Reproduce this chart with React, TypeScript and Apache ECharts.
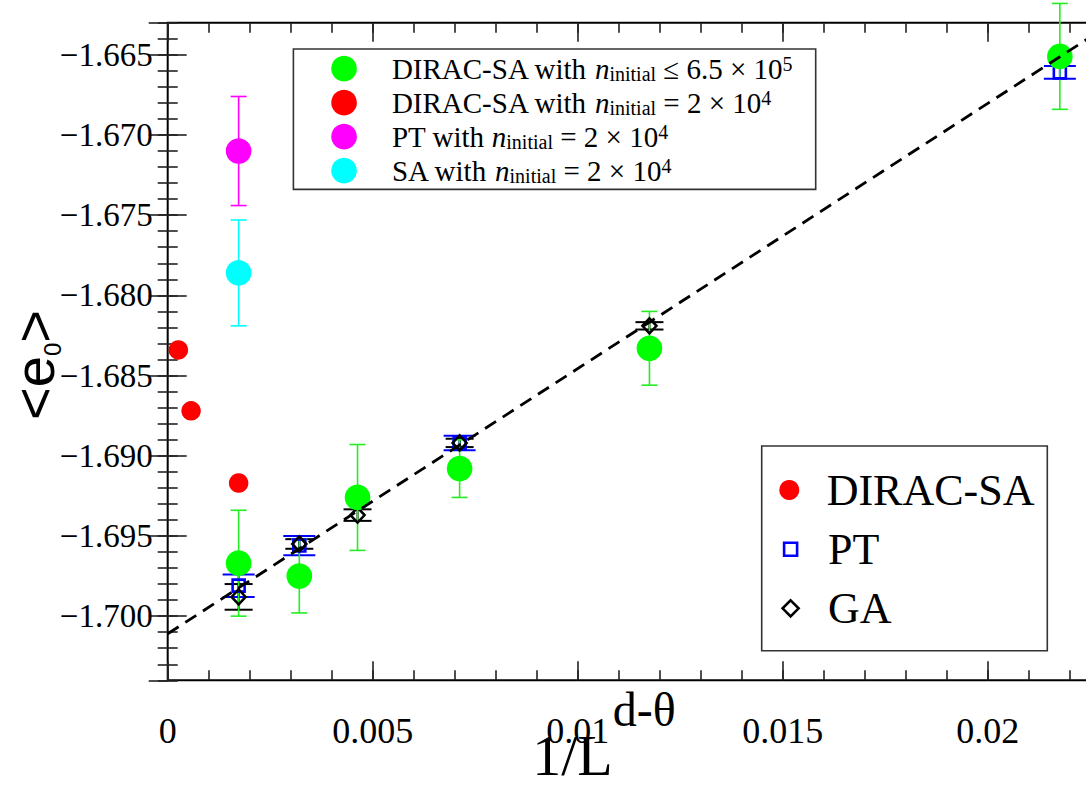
import React, { useEffect, useRef } from "react";
import * as echarts from "echarts";

// ---------- data ----------
// x = 1/L^(d-theta)
const diracBestX = [0.00173, 0.00321, 0.00463, 0.00712, 0.01175, 0.02176];
const diracBestY = [-1.6967, -1.6975, -1.6926, -1.6908, -1.6833, -1.6651];
const diracBestErr = [0.0033, 0.0023, 0.0033, 0.0018, 0.0023, 0.0033];

const diracSmallX = [0.00026, 0.00057, 0.00173];
const diracSmallY = [-1.6834, -1.6872, -1.6917];

const ptSmallX = [0.00173];
const ptSmallY = [-1.671];
const ptSmallErr = [0.0034];

const saSmallX = [0.00173];
const saSmallY = [-1.6786];
const saSmallErr = [0.0033];

const ptX = [0.00173, 0.00321, 0.00712, 0.02176];
const ptY = [-1.6981, -1.6956, -1.6892, -1.6661];
const ptErr = [0.0007, 0.0006, 0.00045, 0.0004];

const gaX = [0.00173, 0.00321, 0.00463, 0.00712, 0.01175];
const gaY = [-1.6988, -1.6955, -1.6937, -1.6892, -1.6819];
const gaErr = [0.0008, 0.0003, 0.00036, 0.00026, 0.00023];

const fitX = [0, 0.0225];
const fitY = [-1.7011, -1.6639];

const xRange = [0, 0.0225];
const yRange = [-1.704, -1.663];

const legendTopNames = [
  "DIRAC-SA with n_initial ≤ 6.5 × 10^5",
  "DIRAC-SA with n_initial = 2 × 10^4",
  "PT with n_initial = 2 × 10^4",
  "SA with n_initial = 2 × 10^4",
];
const legendTopRich = [
  "{sp| }DIRAC-SA with {i|n}{sub|initial}{t| ≤ 6.5 × 10}{sup|5}",
  "{sp| }DIRAC-SA with {i|n}{sub|initial}{t| = 2 × 10}{sup|4}",
  "{sp| }PT with {i|n}{sub|initial}{t| = 2 × 10}{sup|4}",
  "{sp| }SA with {i|n}{sub|initial}{t| = 2 × 10}{sup|4}",
];

const FONT = "Liberation Serif";

const pts = (xs: number[], ys: number[]) => xs.map((x, i) => [x, ys[i]]);

function errorBars(name: string, xs: number[], ys: number[], es: number[], color: string, cap: number, width: number) {
  return {
    type: "custom",
    name,
    data: xs.map((x, i) => [x, ys[i], es[i]]),
    xAxisIndex: 0,
    yAxisIndex: 0,
    clip: false,
    silent: true,
    encode: { x: 0, y: 1 },
    renderItem: (_params: any, api: any) => {
      const x = api.value(0);
      const y = api.value(1);
      const e = api.value(2);
      const p1 = api.coord([x, y + e]);
      const p2 = api.coord([x, y - e]);
      const st = { stroke: color, lineWidth: width, fill: "none" };
      return {
        type: "group",
        children: [
          { type: "line", shape: { x1: p1[0], y1: p1[1], x2: p2[0], y2: p2[1] }, style: st },
          { type: "line", shape: { x1: p1[0] - cap / 2, y1: p1[1], x2: p1[0] + cap / 2, y2: p1[1] }, style: st },
          { type: "line", shape: { x1: p2[0] - cap / 2, y1: p2[1], x2: p2[0] + cap / 2, y2: p2[1] }, style: st },
        ],
      };
    },
  };
}

const tickStyle = { color: "#222", width: 1.6 };

function xAx(position: "bottom" | "top", major: boolean) {
  return {
    type: "value",
    min: xRange[0],
    max: xRange[1],
    interval: major ? 0.005 : 0.001,
    position,
    axisLine: { show: false },
    axisTick: { show: true, inside: true, length: major ? 19 : 10, lineStyle: tickStyle },
    axisLabel: {
      show: major && position === "bottom",
      fontFamily: FONT,
      fontSize: 36,
      color: "#000",
      margin: 33,
      showMaxLabel: false,
    },
    splitLine: { show: false },
    ...(major && position === "bottom"
      ? {
          name: "{a|1/L}{s|d-θ}",
          nameLocation: "middle",
          nameGap: 5,
          nameMoveOverlap: false,
          nameTextStyle: {
            padding: [0, 50, 0, 0],
            rich: {
              a: { fontFamily: FONT, fontSize: 58, lineHeight: 140, color: "#000" },
              s: { fontFamily: FONT, fontSize: 48, lineHeight: 48, color: "#000", verticalAlign: "top" },
            },
          },
        }
      : {}),
  };
}

function yAx(position: "left" | "right", major: boolean) {
  return {
    type: "value",
    min: yRange[0],
    max: yRange[1],
    ...(major ? { splitNumber: 8 } : { interval: 0.001 }),
    position,
    axisLine: { show: false },
    axisTick: { show: true, inside: true, length: major ? 19 : 10, lineStyle: tickStyle },
    axisLabel: {
      show: major && position === "left",
      fontFamily: FONT,
      fontSize: 33,
      color: "#000",
      margin: 15,
      showMinLabel: false,
      showMaxLabel: false,
      formatter: (v: number) => (v < 0 ? "−" : "") + Math.abs(v).toFixed(3),
    },
    splitLine: { show: false },
    ...(major && position === "left"
      ? {
          name: "{b|<}{e|e}{s|0}{b|>}",
          nameLocation: "middle",
          nameRotate: 90,
          nameGap: 103,
          nameMoveOverlap: false,
          nameTextStyle: {
            padding: [0, 27, 0, 0],
            rich: {
              b: { fontFamily: "Liberation Sans", fontSize: 56, lineHeight: 60, color: "#000" },
              e: { fontFamily: "Liberation Sans", fontSize: 56, lineHeight: 60, color: "#000" },
              s: { fontFamily: "Liberation Sans", fontSize: 24, lineHeight: 30, color: "#000", verticalAlign: "bottom" },
            },
          },
        }
      : {}),
  };
}

const topRich = {
  sp: { width: 30 },
  i: { fontFamily: FONT, fontStyle: "italic", fontSize: 29, lineHeight: 30 },
  sub: { fontFamily: FONT, fontSize: 20, lineHeight: 19, verticalAlign: "bottom" },
  t: { fontFamily: FONT, fontSize: 29, lineHeight: 30 },
  sup: { fontFamily: FONT, fontSize: 20, lineHeight: 19, verticalAlign: "top" },
};

function smallLegend(name: string, icon: string, size: number, centerY: number, spacer: number, itemStyle?: any) {
  return {
    show: true,
    selectedMode: false,
    orient: "vertical",
    left: 789.3 - size / 2,
    top: centerY - 25,
    padding: 0,
    itemWidth: size,
    itemHeight: size,
    data: [{ name, icon, ...(itemStyle ? { itemStyle } : {}) }],
    formatter: (n: string) => "{sp| }" + n,
    textStyle: {
      fontFamily: FONT,
      fontSize: 44,
      lineHeight: 50,
      color: "#000",
      rich: { sp: { width: spacer } },
    },
  };
}

const option: any = {
  animation: false,
  backgroundColor: "#fff",
  textStyle: { fontFamily: FONT },
  grid: {
    left: 167.7,
    top: 22.7,
    width: 922.5,
    height: 657.6,
    show: true,
    borderColor: "#000",
    borderWidth: 2,
    backgroundColor: "transparent",
    containLabel: false,
    outerBoundsMode: "none",
  },
  xAxis: [xAx("bottom", true), xAx("bottom", false), xAx("top", true), xAx("top", false)],
  yAxis: [yAx("left", true), yAx("left", false), yAx("right", true), yAx("right", false)],
  legend: [
    {
      show: true,
      selectedMode: false,
      orient: "vertical",
      left: 331.2,
      top: 53.7,
      padding: 0,
      itemGap: 4,
      itemWidth: 25.7,
      itemHeight: 25.7,
      data: legendTopNames.map((n) => ({ name: n, icon: "circle" })),
      formatter: (n: string) => legendTopRich[legendTopNames.indexOf(n)],
      textStyle: { fontFamily: FONT, fontSize: 29, lineHeight: 30, color: "#000", rich: topRich },
    },
    smallLegend("DIRAC-SA", "circle", 20, 490, 22.4),
    smallLegend("PT", "rect", 13, 549.3, 26, { color: "rgba(255,255,255,0)", borderColor: "#0000ff", borderWidth: 2.6 }),
    smallLegend("GA", "diamond", 16, 608.3, 24.4, { color: "rgba(255,255,255,0)", borderColor: "#000", borderWidth: 2.6 }),
  ],
  graphic: [
    {
      type: "rect",
      shape: { x: 293.4, y: 49, width: 522.3, height: 140.4 },
      style: { fill: "none", stroke: "#333", lineWidth: 1.6 },
      silent: true,
    },
    {
      type: "rect",
      shape: { x: 761.7, y: 446, width: 285.6, height: 204.7 },
      style: { fill: "none", stroke: "#333", lineWidth: 1.6 },
      silent: true,
    },
  ],
  series: [
    {
      type: "line",
      name: "fit",
      data: pts(fitX, fitY),
      showSymbol: false,
      symbol: "none",
      lineStyle: { color: "#000", width: 2.8, type: [13, 8] },
      silent: true,
    },
    errorBars("PT err", ptX, ptY, ptErr, "#0000ff", 32, 2),
    {
      type: "scatter",
      name: "PT",
      data: pts(ptX, ptY),
      symbol: "rect",
      symbolSize: 12,
      itemStyle: { color: "rgba(255,255,255,0)", borderColor: "#0000ff", borderWidth: 2.6, opacity: 1 },
    },
    errorBars("GA err", gaX, gaY, gaErr, "#000", 28, 2),
    {
      type: "scatter",
      name: "GA",
      data: pts(gaX, gaY),
      symbol: "diamond",
      symbolSize: [14, 15],
      itemStyle: { color: "rgba(255,255,255,0)", borderColor: "#000", borderWidth: 2.6, opacity: 1 },
    },
    errorBars("DIRAC best err", diracBestX, diracBestY, diracBestErr, "#22ee22", 16, 1.6),
    {
      type: "scatter",
      name: legendTopNames[0],
      data: pts(diracBestX, diracBestY),
      symbol: "circle",
      symbolSize: 25.7,
      itemStyle: { color: "#00ff00", opacity: 1 },
    },
    {
      type: "scatter",
      name: legendTopNames[1],
      data: pts(diracSmallX, diracSmallY),
      symbol: "circle",
      symbolSize: 19.5,
      itemStyle: { color: "#ff0000", opacity: 1 },
    },
    errorBars("PT small err", ptSmallX, ptSmallY, ptSmallErr, "#ff00ff", 16, 1.6),
    {
      type: "scatter",
      name: legendTopNames[2],
      data: pts(ptSmallX, ptSmallY),
      symbol: "circle",
      symbolSize: 25.7,
      itemStyle: { color: "#ff00ff", opacity: 1 },
    },
    errorBars("SA small err", saSmallX, saSmallY, saSmallErr, "#00ffff", 16, 1.6),
    {
      type: "scatter",
      name: legendTopNames[3],
      data: pts(saSmallX, saSmallY),
      symbol: "circle",
      symbolSize: 25.7,
      itemStyle: { color: "#00ffff", opacity: 1 },
    },
    {
      type: "scatter",
      name: "DIRAC-SA",
      data: [],
      symbol: "circle",
      symbolSize: 20,
      itemStyle: { color: "#ff0000", opacity: 1 },
    },
  ],
};

export default function App() {
  const ref = useRef<HTMLDivElement>(null);
  useEffect(() => {
    if (!ref.current) return;
    const chart = echarts.init(ref.current, null, { renderer: "svg" });
    chart.setOption(option);
    return () => chart.dispose();
  }, []);
  return (
    <div
      style={{
        position: "fixed",
        left: 0,
        top: 0,
        width: 1086,
        height: 794,
        overflow: "hidden",
        background: "#fff",
      }}
    >
      <div ref={ref} style={{ width: 1100, height: 794 }} />
    </div>
  );
}
